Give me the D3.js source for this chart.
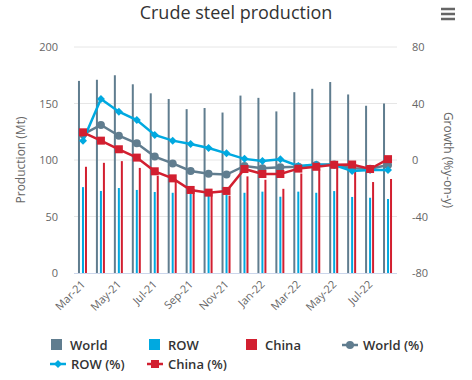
<!DOCTYPE html>
<html>
<head>
<meta charset="utf-8">
<script src="https://cdn.jsdelivr.net/npm/d3@7/dist/d3.min.js"></script>
<style>
  html, body { margin: 0; padding: 0; background: #fff; }
  svg { display: block; font-family: "Open Sans", "DejaVu Sans", sans-serif; }
</style>
</head>
<body>
<svg id="chart" width="472" height="380"></svg>
<script>
const months = ["Mar-21","Apr-21","May-21","Jun-21","Jul-21","Aug-21","Sep-21","Oct-21","Nov-21","Dec-21","Jan-22","Feb-22","Mar-22","Apr-22","May-22","Jun-22","Jul-22","Aug-22"];
const worldMt = [170, 171, 175, 167, 159, 154, 145, 146, 142, 157, 155, 143, 160, 163, 169, 158, 148, 150];
const rowMt   = [76, 72.6, 75.2, 73.5, 71.7, 71, 70, 69, 69, 71, 72, 67.5, 72, 71, 72.5, 67.3, 66.6, 65.5];
const chinaMt = [94, 97.5, 99, 93, 86, 82.5, 74, 72, 68.5, 85.5, 82.5, 74.5, 88, 92.5, 96.5, 91, 80.5, 83.2];
const worldPct = [18.2, 24.8, 17.2, 11.8, 2.4, -2.4, -7.8, -9.7, -10.3, -4.2, -5.9, -5.2, -4.7, -3.5, -3.1, -5.9, -6.2, -3.5];
const rowPct   = [13.7, 43.2, 34.2, 28.3, 17.7, 13.7, 11.3, 8.5, 4.7, 0.8, -0.7, 0.5, -4.2, -3.1, -3.5, -7.8, -7.1, -7.1];
const chinaPct = [19.6, 13.7, 7.6, 1.7, -8, -13, -21.2, -23.1, -21.9, -6.4, -9.9, -9.9, -6.1, -4.8, -3.4, -3.2, -6.4, 0.6];
const leftTicks = [0, 50, 100, 150, 200];
const rightTicks = [-80, -40, 0, 40, 80];

const C_WORLD = "#607d8f", C_ROW = "#00a9e0", C_CHINA = "#d21f30";
const svg = d3.select("#chart");
const L = 74, R = 397, T = 47, B = 273;

const x = d3.scaleBand().domain(months).range([L, R]).padding(0);
const cx = d => x(d) + x.bandwidth() / 2;
const yL = d3.scaleLinear().domain([0, 200]).range([B, T]);
const yR = d3.scaleLinear().domain([-80, 80]).range([B, T]);

// title
svg.append("text").attr("x", 236).attr("y", 19).attr("text-anchor", "middle")
  .attr("font-size", 18).attr("fill", "#333").text("Crude steel production");

// hamburger
[9, 14, 19].forEach(yy => svg.append("line").attr("x1", 441).attr("x2", 455)
  .attr("y1", yy).attr("y2", yy).attr("stroke", "#666").attr("stroke-width", 2.5));

// grid
svg.append("g").selectAll("line").data(leftTicks.filter(d => d > 0)).join("line")
  .attr("x1", L).attr("x2", R).attr("y1", d => yL(d)).attr("y2", d => yL(d))
  .attr("stroke", "#e6e6e6").attr("stroke-width", 1);
svg.append("line").attr("x1", L).attr("x2", R).attr("y1", B + 0.5).attr("y2", B + 0.5)
  .attr("stroke", "#ccd6eb").attr("stroke-width", 1);

// axis labels
svg.append("g").selectAll("text").data(leftTicks).join("text")
  .attr("x", 58).attr("y", d => yL(d) + 4).attr("text-anchor", "end")
  .attr("font-size", 11).attr("fill", "#666").text(d => d);
svg.append("g").selectAll("text").data(rightTicks).join("text")
  .attr("x", 412).attr("y", d => yR(d) + 4).attr("text-anchor", "start")
  .attr("font-size", 11).attr("fill", "#666").text(d => d);

svg.append("text").attr("transform", "translate(25,160) rotate(-90)").attr("text-anchor", "middle")
  .attr("font-size", 12).attr("fill", "#666").text("Production (Mt)");
svg.append("text").attr("transform", "translate(444,160) rotate(90)").attr("text-anchor", "middle")
  .attr("font-size", 12).attr("fill", "#666").text("Growth (%y-on-y)");

// x labels
svg.append("g").selectAll("text").data(months.filter((d, i) => i % 2 === 0)).join("text")
  .attr("transform", d => `translate(${cx(d) + 3},${B + 12}) rotate(-45)`)
  .attr("text-anchor", "end").attr("font-size", 11).attr("fill", "#666").text(d => d);

// bars
const barSeries = [
  { vals: worldMt, color: C_WORLD, off: -5 },
  { vals: rowMt, color: C_ROW, off: -1 },
  { vals: chinaMt, color: C_CHINA, off: 2 }
];
barSeries.forEach(s => {
  svg.append("g").selectAll("rect").data(months).join("rect")
    .attr("x", d => cx(d) + s.off).attr("width", 2)
    .attr("y", (d, i) => yL(s.vals[i])).attr("height", (d, i) => B - yL(s.vals[i]))
    .attr("fill", s.color);
});

// lines
const lineSeries = [
  { vals: worldPct, color: C_WORLD, sym: "circle" },
  { vals: rowPct, color: C_ROW, sym: "diamond" },
  { vals: chinaPct, color: C_CHINA, sym: "square" }
];
const line = vals => d3.line().x((d, i) => cx(months[i])).y(d => yR(d))(vals);
function drawSym(g, sym, px, py, color) {
  if (sym === "circle") g.append("circle").attr("cx", px).attr("cy", py).attr("r", 4).attr("fill", color);
  else if (sym === "diamond") g.append("path").attr("d", `M${px},${py-4}L${px+4},${py}L${px},${py+4}L${px-4},${py}Z`).attr("fill", color);
  else g.append("rect").attr("x", px - 4).attr("y", py - 4).attr("width", 8).attr("height", 8).attr("fill", color);
}
lineSeries.forEach(s => {
  const g = svg.append("g");
  g.append("path").attr("d", line(s.vals)).attr("fill", "none").attr("stroke", s.color).attr("stroke-width", 2.5);
  s.vals.forEach((v, i) => drawSym(g, s.sym, cx(months[i]), yR(v), s.color));
});

// legend
const legendItems = [
  { name: "World", color: C_WORLD, type: "bar", x: 51, y: 345 },
  { name: "ROW", color: C_ROW, type: "bar", x: 149, y: 345 },
  { name: "China", color: C_CHINA, type: "bar", x: 246, y: 345 },
  { name: "World (%)", color: C_WORLD, type: "line", sym: "circle", x: 342, y: 345 },
  { name: "ROW (%)", color: C_ROW, type: "line", sym: "diamond", x: 50, y: 364 },
  { name: "China (%)", color: C_CHINA, type: "line", sym: "square", x: 147, y: 364 }
];
const lg = svg.append("g");
legendItems.forEach(it => {
  let tx;
  if (it.type === "bar") {
    lg.append("rect").attr("x", it.x).attr("y", it.y - 6).attr("width", 11).attr("height", 11).attr("fill", it.color);
    tx = it.x + 19;
  } else {
    lg.append("line").attr("x1", it.x).attr("x2", it.x + 16).attr("y1", it.y).attr("y2", it.y)
      .attr("stroke", it.color).attr("stroke-width", 2.5);
    drawSym(lg, it.sym, it.x + 8, it.y, it.color);
    tx = it.x + 21;
  }
  lg.append("text").attr("x", tx).attr("y", it.y + 5).attr("font-size", 13).attr("font-weight", 600)
    .attr("fill", "#333").text(it.name);
});
</script>
</body>
</html>
